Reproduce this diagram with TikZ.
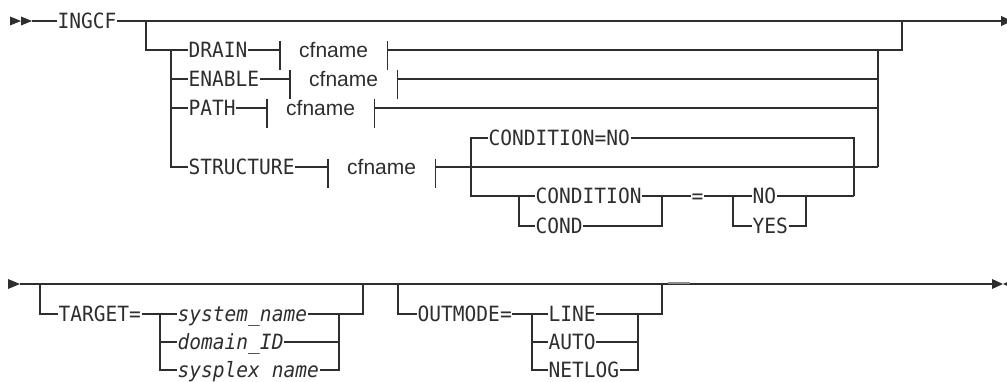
\documentclass[tikz,border=0pt]{standalone}
\usepackage{fontspec}
\usepackage{xcolor}
\usepackage{tikz}
\usetikzlibrary{arrows.meta, positioning}
\newfontfamily\kwfont[FakeStretch=0.93]{DejaVu Sans Mono}
\newfontfamily\fragfont{Liberation Sans}
\definecolor{railgray}{HTML}{2E2E2E}

\tikzset{
  rail/.style={draw=railgray, line width=1.05pt},
  kw/.style={font=\kwfont\fontsize{21}{22}\selectfont, text=railgray, inner xsep=0.5pt, inner ysep=0pt, text height=15.2pt, text depth=0pt, anchor=west},
  var/.style={kw, font=\kwfont\itshape\fontsize{21}{22}\selectfont},
  frag/.style={font=\fragfont\fontsize{21}{22}\selectfont, text=railgray, inner xsep=19pt, inner ysep=0pt, text height=16pt, text depth=0pt, anchor=west}
}

\begin{document}
\begin{tikzpicture}[x=1pt, y=-1pt]
        \useasboundingbox (0,0) rectangle (1007,382);

        % first line: start marks and keyword
        \fill[railgray] (10,16.5) -- (21,21) -- (10,25.5) -- cycle;
        \fill[railgray] (21,16.5) -- (32,21) -- (21,25.5) -- cycle;
        \coordinate (s1) at (32,21);
        \coordinate (end1) at (1012,21);
        \node[kw] (ingcf) at (57,21) {INGCF};
        \draw[rail] (s1) -- (ingcf.west);
        \draw[rail, -{Triangle[length=11pt, width=10pt]}] (ingcf.east) -- (end1);

        % optional group of four choices
        \coordinate (g1) at (146,21);
        \coordinate (g2) at (902,21);
        \coordinate (c1) at (171,50);
        \coordinate (c2) at (878,50);
        \node[kw] (drain) at (188,50) {DRAIN};
        \node[kw] (enable) at (188,79) {ENABLE};
        \node[kw] (pathk) at (188,108) {PATH};
        \node[kw] (struct) at (188,167) {STRUCTURE};
        \node[frag] (dcf) at (280,50) {cfname};
        \node[frag] (ecf) at (290,79) {cfname};
        \node[frag] (pcf) at (267,108) {cfname};
        \node[frag] (scf) at (328,167) {cfname};

        \draw[rail] (g1) |- (drain.west);
        \draw[rail] (c1) |- (struct.west);
        \draw[rail] (c1 |- enable.west) -- (enable.west);
        \draw[rail] (c1 |- pathk.west) -- (pathk.west);
        \draw[rail] (drain.east) -- (dcf.west);
        \draw[rail] (enable.east) -- (ecf.west);
        \draw[rail] (pathk.east) -- (pcf.west);
        \draw[rail] (struct.east) -- (scf.west);
        \draw[rail] (dcf.east) -| (g2);
        \draw[rail] (ecf.east) -- (c2 |- ecf.east);
        \draw[rail] (pcf.east) -- (c2 |- pcf.east);
        \draw[rail] (scf.east) -- (c2 |- scf.east);
        \draw[rail] (c2) -- (c2 |- scf.east);

        % fragment bars
        \draw[rail] ([yshift=9pt]dcf.west) -- ([yshift=-20pt]dcf.west);
        \draw[rail] ([yshift=9pt]dcf.east) -- ([yshift=-20pt]dcf.east);
        \draw[rail] ([yshift=9pt]ecf.west) -- ([yshift=-20pt]ecf.west);
        \draw[rail] ([yshift=9pt]ecf.east) -- ([yshift=-20pt]ecf.east);
        \draw[rail] ([yshift=9pt]pcf.west) -- ([yshift=-20pt]pcf.west);
        \draw[rail] ([yshift=9pt]pcf.east) -- ([yshift=-20pt]pcf.east);
        \draw[rail] ([yshift=8pt]scf.west) -- ([yshift=-21pt]scf.west);
        \draw[rail] ([yshift=8pt]scf.east) -- ([yshift=-21pt]scf.east);

        % CONDITION block
        \coordinate (bb1) at (471,196);
        \coordinate (bb2) at (854,196);
        \coordinate (ci1) at (519,196);
        \coordinate (ci2) at (662,196);
        \coordinate (ni1) at (733,196);
        \coordinate (ni2) at (806,196);
        \node[kw] (condno) at (488,138) {CONDITION=NO};
        \node[kw] (condition) at (535,196) {CONDITION};
        \node[kw] (cond) at (535,226) {COND};
        \node[kw] (equal) at (691,196) {=};
        \node[kw] (no) at (752,196) {NO};
        \node[kw] (yes) at (752,226) {YES};

        \draw[rail] (condno.west) -| (bb1) -- (condition.west);
        \draw[rail] (condno.east) -| (bb2);
        \draw[rail] (ci1) |- (cond.west);
        \draw[rail] (cond.east) -| (ci2);
        \draw[rail] (condition.east) -- (equal.west);
        \draw[rail] (equal.east) -- (no.west);
        \draw[rail] (ni1) |- (yes.west);
        \draw[rail] (yes.east) -| (ni2);
        \draw[rail] (no.east) -- (bb2);

        % second line
        \fill[railgray] (8,279) -- (20,284) -- (8,289) -- cycle;
        \coordinate (s2) at (20,284);
        \coordinate (e2) at (992,284);
        \draw[rail] (s2) -- (e2);
        \fill[railgray] (992,279) -- (1003,284) -- (992,289) -- cycle;
        \fill[railgray] (1014,279) -- (1003,284) -- (1014,289) -- cycle;
        \draw[railgray!55, line width=2pt] (668,283) -- (690,283);

        % TARGET group
        \coordinate (t1) at (40,284);
        \coordinate (t2) at (363,284);
        \coordinate (ti1) at (160,314);
        \coordinate (ti2) at (339,314);
        \node[kw] (target) at (58,314) {TARGET=};
        \node[var] (sysn) at (177,314) {system\_name};
        \node[var] (domid) at (177,342) {domain\_ID};
        \node[var] (plexn) at (177,370) {sysplex name};

        \draw[rail] (t1) |- (target.west);
        \draw[rail] (target.east) -- (sysn.west);
        \draw[rail] (ti1) |- (plexn.west);
        \draw[rail] (ti1 |- domid.west) -- (domid.west);
        \draw[rail] (sysn.east) -| (t2);
        \draw[rail] (ti2) |- (plexn.east);
        \draw[rail] (domid.east) -- (ti2 |- domid.east);

        % OUTMODE group
        \coordinate (o1) at (398,284);
        \coordinate (o2) at (662,284);
        \coordinate (oi1) at (532,314);
        \coordinate (oi2) at (638,314);
        \node[kw] (outmode) at (417,314) {OUTMODE=};
        \node[kw] (line) at (548,314) {LINE};
        \node[kw] (auto) at (548,342) {AUTO};
        \node[kw] (netlog) at (548,370) {NETLOG};

        \draw[rail] (o1) |- (outmode.west);
        \draw[rail] (outmode.east) -- (line.west);
        \draw[rail] (oi1) |- (netlog.west);
        \draw[rail] (oi1 |- auto.west) -- (auto.west);
        \draw[rail] (line.east) -| (o2);
        \draw[rail] (oi2) |- (netlog.east);
        \draw[rail] (auto.east) -- (oi2 |- auto.east);
    \end{tikzpicture}
\end{document}
